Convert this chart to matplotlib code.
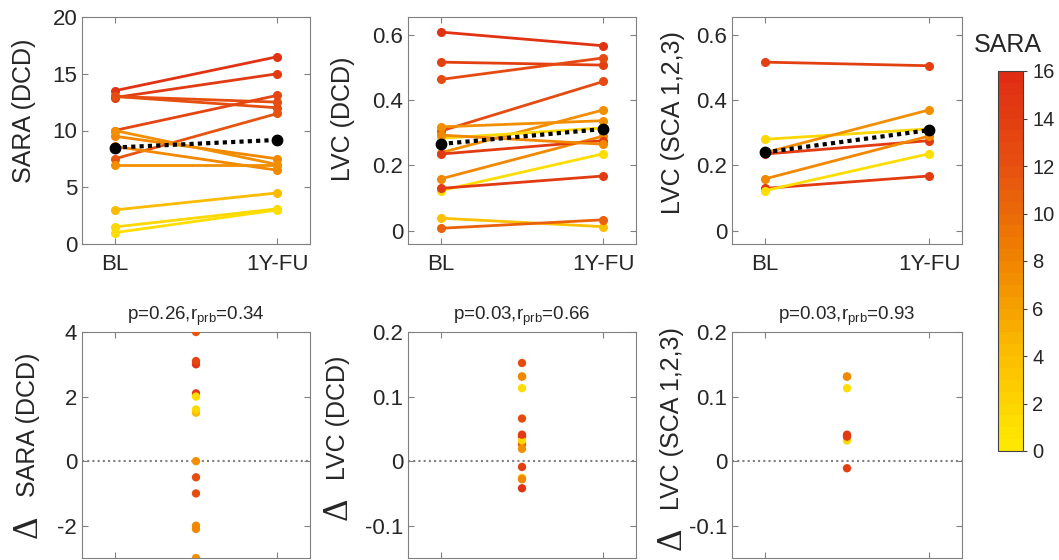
import numpy as np
import matplotlib
matplotlib.use('Agg')
import matplotlib.pyplot as plt
from matplotlib.colors import LinearSegmentedColormap, Normalize
from matplotlib.cm import ScalarMappable
from matplotlib.ticker import FuncFormatter

plt.rcParams['font.family'] = ['Liberation Sans', 'DejaVu Sans']
plt.rcParams['mathtext.fontset'] = 'custom'
plt.rcParams['mathtext.rm'] = 'Liberation Sans'
plt.rcParams['mathtext.it'] = 'Liberation Sans'

# SARA (DCD), per subject: baseline, follow-up, colour value (SARA)
sara_bl = [13.5, 12.9, 13.0, 13.0, 10.0, 7.5, 9.5, 10.0, 8.6, 7.0, 3.0, 1.5, 1.0]
sara_fu = [16.5, 15.0, 12.5, 12.0, 13.1, 11.5, 7.5, 7.0, 6.5, 7.0, 4.5, 3.1, 3.0]
sara_col = [15.0, 14.0, 12.0, 12.0, 13.0, 11.5, 7.5, 7.0, 7.5, 7.0, 4.0, 1.5, 1.0]

# LVC (DCD)
lvc_bl = [0.608, 0.516, 0.463, 0.305, 0.239, 0.159, 0.123, 0.130, 0.039, 0.008, 0.318, 0.283, 0.235, 0.293]
lvc_fu = [0.566, 0.507, 0.529, 0.457, 0.370, 0.290, 0.236, 0.168, 0.013, 0.034, 0.337, 0.315, 0.276, 0.265]
lvc_col = [15.0, 13.5, 12.5, 12.5, 7.0, 7.5, 1.0, 14.0, 3.5, 10.5, 7.0, 1.5, 14.0, 7.5]

# LVC (SCA 1,2,3)
sca_bl = [0.516, 0.280, 0.239, 0.235, 0.159, 0.130, 0.123]
sca_fu = [0.505, 0.312, 0.370, 0.276, 0.290, 0.168, 0.236]
sca_col = [13.5, 1.5, 7.0, 14.0, 7.5, 14.0, 1.0]

timepoints = ['BL', '1Y-FU']
top_labels = ['SARA (DCD)', 'LVC (DCD)', 'LVC (SCA 1,2,3)']
bottom_labels = ['SARA (DCD)', 'LVC (DCD)', 'LVC (SCA 1,2,3)']
stats = [r'p=0.26,r$_{\mathrm{prb}}$=0.34', r'p=0.03,r$_{\mathrm{prb}}$=0.66', r'p=0.03,r$_{\mathrm{prb}}$=0.93']

cmap = LinearSegmentedColormap.from_list(
    'sara', ['#FFE800', '#FBBD00', '#F08400', '#E65210', '#E02D14'], N=32)
norm = Normalize(0, 16)

W, H = 1059, 560
fig = plt.figure(figsize=(W / 100, H / 100), dpi=100)

lefts = [82, 408, 732]
widths = [228, 228, 230]
top_ylims = [(0, 20), (-0.04, 0.654), (-0.04, 0.654)]
top_yticks = [np.arange(0, 21, 5), [0, 0.2, 0.4, 0.6], [0, 0.2, 0.4, 0.6]]
bot_ylims = [(-3, 4), (-0.15, 0.2), (-0.15, 0.2)]
bot_yticks = [[-2, 0, 2, 4], [-0.1, 0, 0.1, 0.2], [-0.1, 0, 0.1, 0.2]]
top_lab_pos = [(-0.20, 0.586), (-0.232, 0.55), (-0.204, 0.537)]
# x of label line, y start of delta sign, y start of text (axes fraction)
bot_lab_pos = [(-0.237, 0.088, 0.27), (-0.307, 0.168, 0.345), (-0.26, 0.035, 0.212)]

datasets = [(sara_bl, sara_fu, sara_col), (lvc_bl, lvc_fu, lvc_col), (sca_bl, sca_fu, sca_col)]

spine_c = '#808080'
text_c = '#262626'
fmt = FuncFormatter(lambda v, p: f'{v:g}')


def style(ax):
    for s in ax.spines.values():
        s.set_color(spine_c)
        s.set_linewidth(0.8)
    ax.tick_params(direction='in', length=4, width=0.8, color=spine_c,
                   labelcolor=text_c, top=True, right=True, labelsize=16)
    ax.yaxis.set_major_formatter(fmt)


for i in range(3):
    bl, fu, col = (np.array(d) for d in datasets[i])
    colors = cmap(norm(col))

    # top: paired lines
    ax = fig.add_axes([lefts[i] / W, (H - 244) / H, widths[i] / W, 227 / H])
    for b, f, c in zip(bl, fu, colors):
        ax.plot([1, 2], [b, f], '-o', color=c, lw=2, ms=5.5, mec=c, mfc=c)
    ax.plot([1, 2], [bl.mean(), fu.mean()], color='black', lw=3,
            linestyle=(0, (1, 1)), marker='o', ms=7.5, mfc='black', mec='black')
    ax.set_xlim(0.8, 2.2)
    ax.set_ylim(*top_ylims[i])
    ax.set_xticks([1, 2])
    ax.set_yticks(top_yticks[i])
    style(ax)
    ax.set_xticklabels(timepoints, color=text_c)
    ax.tick_params(axis='x', pad=7)
    ax.set_ylabel(top_labels[i], fontsize=18, color=text_c)
    ax.yaxis.set_label_coords(*top_lab_pos[i])

    # bottom: differences
    ax2 = fig.add_axes([lefts[i] / W, 2 / H, widths[i] / W, 226 / H])
    delta = fu - bl
    ax2.axhline(0, color='#808080', lw=1.5, linestyle=(0, (1, 1.5)))
    ax2.scatter(np.full(len(delta), 1.5), delta, c=colors, s=36, zorder=3, linewidths=0)
    ax2.set_xlim(0.8, 2.2)
    ax2.set_ylim(*bot_ylims[i])
    ax2.set_xticks([1, 2])
    ax2.set_xticklabels([])
    ax2.set_yticks(bot_yticks[i])
    style(ax2)
    lx, dy, ty = bot_lab_pos[i]
    ax2.text(lx, dy, '\u0394', transform=ax2.transAxes, rotation=90, rotation_mode='anchor',
             ha='left', va='center', fontsize=25, family='Liberation Serif', color=text_c)
    ax2.text(lx, ty, bottom_labels[i], transform=ax2.transAxes, rotation=90, rotation_mode='anchor',
             ha='left', va='center', fontsize=18, color=text_c)
    ax2.set_title(stats[i], fontsize=13.5, color=text_c, pad=9)

# colorbar
cax = fig.add_axes([998 / W, (H - 451) / H, 25 / W, 380 / H])
cb = fig.colorbar(ScalarMappable(norm=norm, cmap=cmap), cax=cax, ticks=np.arange(0, 17, 2))
cb.outline.set_edgecolor('#404040')
cb.outline.set_linewidth(0.8)
cax.tick_params(direction='out', length=3, width=0.8, color='#404040',
                labelcolor=text_c, labelsize=14.5)
fig.text(1008 / W, 1 - 45 / H, 'SARA', ha='center', va='center', fontsize=18, color=text_c)

fig.savefig('out.png', dpi=100)
